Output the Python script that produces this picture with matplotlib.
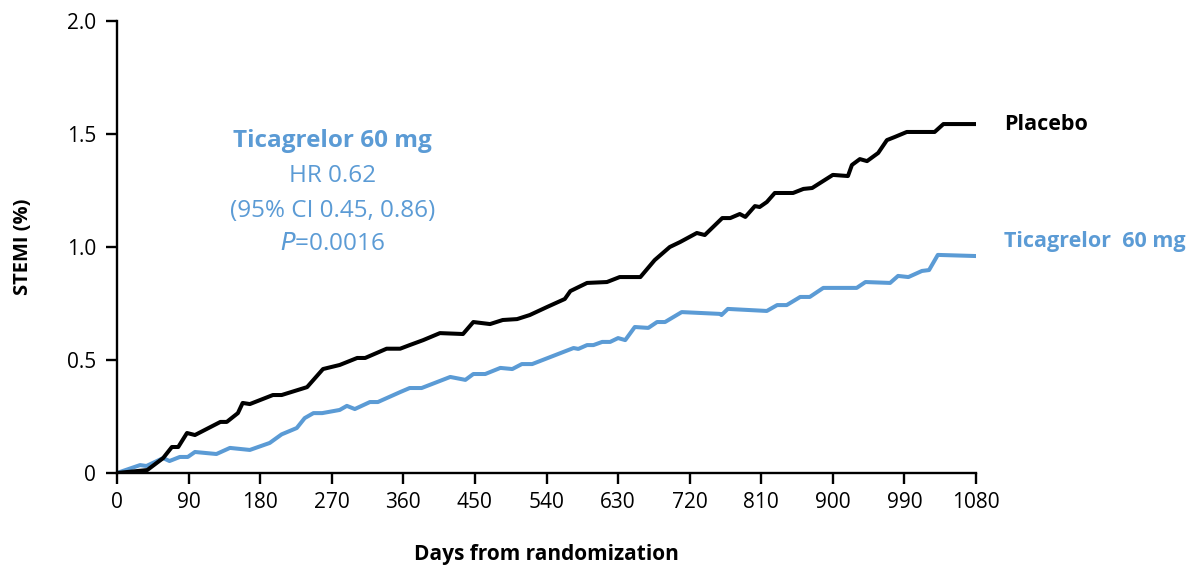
import matplotlib
matplotlib.use("Agg")
import matplotlib.pyplot as plt

plt.rcParams["font.family"] = ["Open Sans", "DejaVu Sans"]

BLUE = "#5B9BD5"

# Cumulative STEMI incidence (%) by days from randomization
placebo_days = [0, 38, 58, 69, 77, 88, 98, 130, 138, 152, 158, 167, 196, 207, 239, 259,
                280, 302, 312, 339, 356, 368, 385, 406, 435, 448, 469, 485, 503, 519,
                541, 563, 570, 591, 616, 632, 658, 676, 695, 708, 729, 739, 761, 771,
                783, 790, 802, 808, 817, 827, 850, 863, 874, 900, 919, 924, 934, 943,
                957, 968, 978, 993, 1028, 1039, 1080]
placebo_pct = [0, 0.013, 0.066, 0.115, 0.115, 0.177, 0.168, 0.226, 0.226, 0.265, 0.31,
               0.305, 0.345, 0.345, 0.38, 0.46, 0.478, 0.509, 0.509, 0.55, 0.55, 0.566,
               0.588, 0.619, 0.615, 0.668, 0.659, 0.677, 0.681, 0.699, 0.735, 0.77,
               0.805, 0.841, 0.845, 0.867, 0.867, 0.942, 1.0, 1.022, 1.062, 1.053,
               1.128, 1.128, 1.146, 1.133, 1.181, 1.177, 1.199, 1.239, 1.239, 1.257,
               1.261, 1.319, 1.314, 1.363, 1.389, 1.38, 1.416, 1.473, 1.487, 1.509,
               1.509, 1.544, 1.544]

tica_days = [0, 29, 37, 58, 66, 79, 89, 98, 125, 142, 167, 192, 207, 226, 236, 247,
             258, 280, 289, 299, 318, 328, 356, 368, 383, 419, 438, 448, 463, 482, 497,
             509, 522, 574, 580, 591, 599, 610, 620, 630, 639, 651, 668, 679, 689, 710,
             758, 760, 768, 817, 830, 842, 859, 871, 888, 930, 941, 972, 982, 995, 1012,
             1021, 1032, 1080]
tica_pct = [0, 0.035, 0.031, 0.066, 0.053, 0.071, 0.071, 0.093, 0.084, 0.111, 0.102,
            0.133, 0.171, 0.199, 0.243, 0.265, 0.265, 0.279, 0.297, 0.283, 0.314, 0.314,
            0.358, 0.376, 0.376, 0.425, 0.412, 0.438, 0.438, 0.465, 0.46, 0.482, 0.482,
            0.553, 0.549, 0.566, 0.566, 0.58, 0.58, 0.597, 0.588, 0.646, 0.642, 0.668,
            0.668, 0.712, 0.704, 0.699, 0.726, 0.717, 0.743, 0.743, 0.779, 0.779, 0.819,
            0.819, 0.845, 0.841, 0.872, 0.867, 0.894, 0.898, 0.965, 0.96]

x_ticks = list(range(0, 1081, 90))
y_ticks = [0, 0.5, 1.0, 1.5, 2.0]
y_tick_labels = ["0", "0.5", "1.0", "1.5", "2.0"]

fig = plt.figure(figsize=(11.95, 5.71), dpi=100, facecolor="white")
ax = fig.add_axes((117 / 1195, 98 / 571, 859 / 1195, 452 / 571))

ax.plot(placebo_days, placebo_pct, color="black", lw=2.9, solid_joinstyle="round", zorder=3)
ax.plot(tica_days, tica_pct, color=BLUE, lw=2.9, solid_joinstyle="round", zorder=2)

ax.set_xlim(0, 1080)
ax.set_ylim(0, 2.0)
ax.set_xticks(x_ticks)
ax.set_yticks(y_ticks)
ax.set_yticklabels(y_tick_labels)
for side in ("top", "right"):
    ax.spines[side].set_visible(False)
for side in ("left", "bottom"):
    ax.spines[side].set_linewidth(1.7)
ax.tick_params(axis="both", direction="out", length=8, width=1.7, labelsize=15,
               colors="black")
ax.tick_params(axis="x", pad=6)
ax.tick_params(axis="y", pad=7)

ax.set_xlabel("Days from randomization", fontsize=15, fontweight="bold", labelpad=22)
ax.set_ylabel("STEMI (%)", fontsize=14.5, fontweight="bold", labelpad=24)

# end-of-curve labels
ax.text(1115, 1.544, "Placebo", fontsize=15.5, fontweight="bold", color="black",
        va="center", ha="left", clip_on=False)
ax.text(1115, 1.023, "Ticagrelor  60 mg", fontsize=15.5, fontweight="bold", color=BLUE,
        va="center", ha="left", clip_on=False)

# hazard ratio summary
cx = 271
ax.text(cx, 1.468, "Ticagrelor 60 mg", fontsize=17.5, fontweight="bold", color=BLUE,
        ha="center", va="center")
ax.text(cx, 1.314, "HR 0.62", fontsize=17.5, color=BLUE, ha="center", va="center")
ax.text(cx, 1.159, "(95% CI 0.45, 0.86)", fontsize=17.5, color=BLUE, ha="center", va="center")
ax.text(cx, 1.013, r"$\mathit{P}$=0.0016", fontsize=17.5, color=BLUE, ha="center", va="center")

fig.savefig("out.png", dpi=100, facecolor="white")
